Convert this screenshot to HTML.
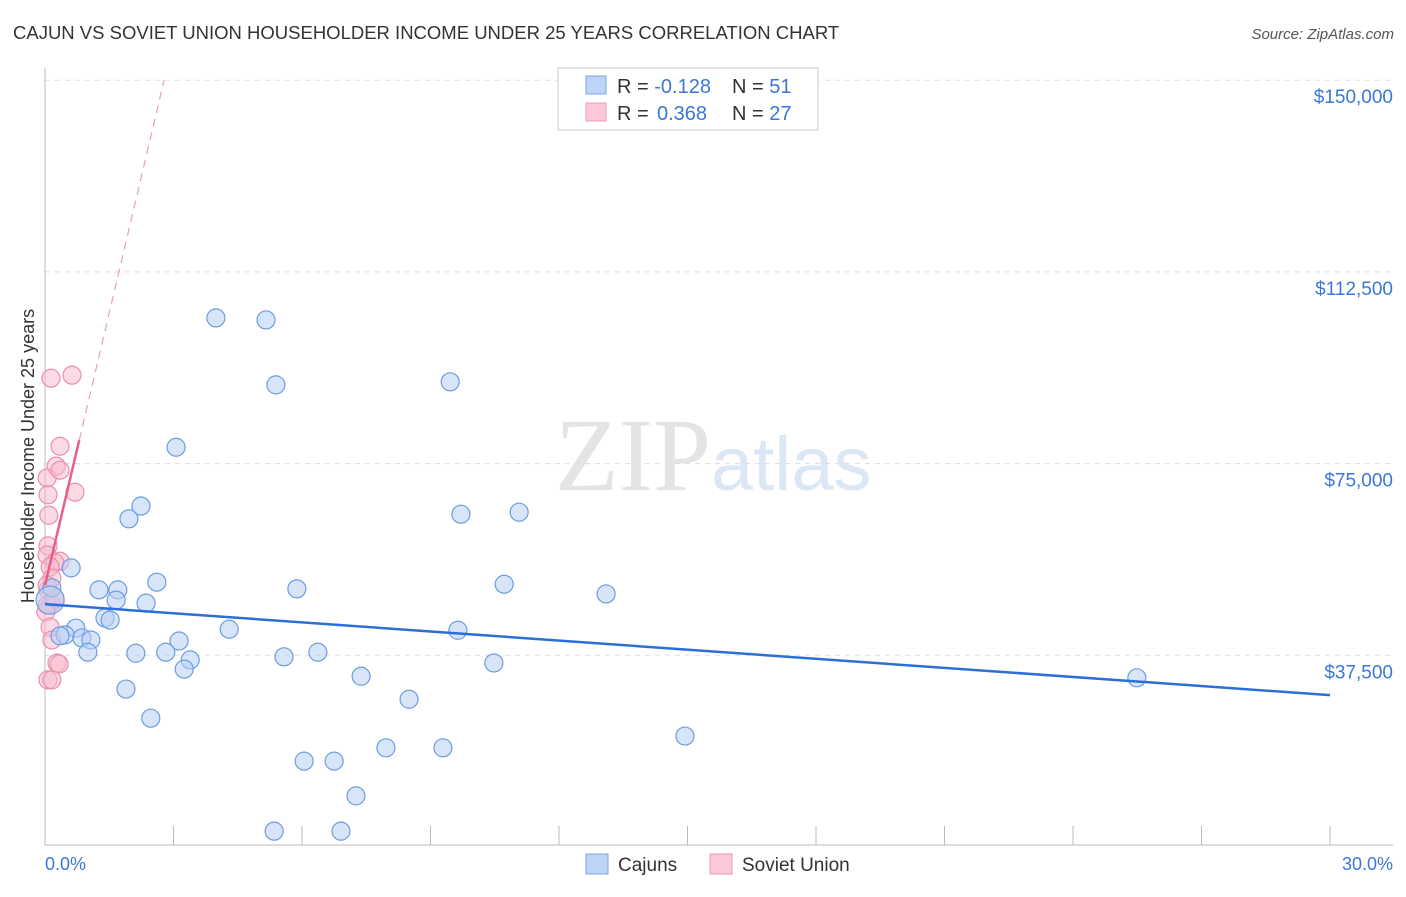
<!DOCTYPE html>
<html><head><meta charset="utf-8"><style>
body{margin:0;background:#fff;font-family:"Liberation Sans",sans-serif;}
</style></head><body>
<svg id="chart" width="1406" height="892" xmlns="http://www.w3.org/2000/svg" font-family="Liberation Sans, sans-serif">
<text x="13" y="39" font-size="18.5" fill="#333">CAJUN VS SOVIET UNION HOUSEHOLDER INCOME UNDER 25 YEARS CORRELATION CHART</text>
<text x="1394" y="39" font-size="15" fill="#555" text-anchor="end" font-style="italic">Source: ZipAtlas.com</text>
<text x="555" y="490" font-size="104" fill="#e4e4e4" font-family="Liberation Serif, serif">ZIP<tspan fill="#dce7f5" font-family="Liberation Sans, sans-serif" font-size="76">atlas</tspan></text>
<g id="grid"></g><g id="axes"></g><g id="marks"></g>
<text transform="translate(34,456) rotate(-90)" font-size="18" fill="#333" text-anchor="middle">Householder Income Under 25 years</text>
<text x="45" y="870" font-size="18" fill="#3a78d8">0.0%</text>
<text x="1393" y="870" font-size="18" fill="#3a78d8" text-anchor="end">30.0%</text>
<g>
<rect x="558" y="68" width="260" height="62" fill="#fff" stroke="#ccc"/>
<rect x="586" y="76" width="20" height="18" fill="#bcd4f6" stroke="#7aa6e6"/>
<rect x="586" y="103" width="20" height="18" fill="#fac8d6" stroke="#ef9ab3"/>
<text x="617" y="93" font-size="20" fill="#333">R = <tspan fill="#3a78d8">-0.128</tspan><tspan x="732">N = </tspan><tspan fill="#3a78d8">51</tspan></text>
<text x="617" y="120" font-size="20" fill="#333">R = <tspan fill="#3a78d8" x="657">0.368</tspan><tspan x="732">N = </tspan><tspan fill="#3a78d8">27</tspan></text>
</g>
<g>
<rect x="586" y="854" width="22" height="20" fill="#bcd4f6" stroke="#7aa6e6"/>
<text x="618" y="871" font-size="19" fill="#333">Cajuns</text>
<rect x="710" y="854" width="22" height="20" fill="#fac8d6" stroke="#ef9ab3"/>
<text x="742" y="871" font-size="19" fill="#333">Soviet Union</text>
</g>
</svg>
<script>
const yTicks=[37500,75000,112500,150000];
const yTickLabels=["$37,500","$75,000","$112,500","$150,000"];
const xTicks=[0,3,6,9,12,15,18,21,24,27,30];
const cajunX=[3.99,5.16,5.39,9.46,3.06,2.24,1.96,9.71,11.07,0.61,2.61,1.26,1.70,1.66,2.36,5.88,10.72,13.10,0.16,0.12,1.40,1.52,0.72,0.47,0.35,0.86,1.07,4.30,3.13,9.64,1.00,2.12,2.82,3.39,3.25,5.58,6.37,10.48,7.38,25.49,1.89,8.50,2.47,14.94,7.96,9.29,6.05,6.75,7.26,5.35,6.91];
const cajunY=[103500,103100,90400,91000,78200,66700,64200,65100,65500,54600,51800,50300,50300,48300,47700,50500,51400,49500,50700,48300,44800,44400,42800,41500,41300,40900,40500,42600,40300,42400,38100,37900,38100,36600,34800,37200,38100,36000,33400,33100,30900,28900,25200,21700,19400,19400,16800,16800,10000,3100,3100];
const sovX=[0.14,0.63,0.35,0.26,0.05,0.70,0.07,0.09,0.07,0.05,0.35,0.23,0.12,0.16,0.07,0.14,0.05,0.02,0.12,0.16,0.28,0.33,0.07,0.16,0.23,0.35,0.05];
const sovY=[91700,92300,78400,74500,72200,69400,68900,64900,58900,57100,55900,55600,54800,52600,50300,47700,47300,46000,43000,40500,36000,35800,32700,32700,48700,73700,51200];
const cajunTrend=[[0,47500],[30,29700]];
const sovTrendSolid=[[0,51200],[0.8,79600]];
const sovTrendDash=[[0.8,79600],[2.78,150000]];
const NS="http://www.w3.org/2000/svg";
const X=v=>45+v/30*1285, Y=v=>847-v/37500*191.7;
function mk(tag,attrs,parent){const e=document.createElementNS(NS,tag);for(const k in attrs)e.setAttribute(k,attrs[k]);document.getElementById(parent).appendChild(e);return e;}
yTicks.forEach((t,i)=>{
 const g=mk('line',{x1:45,x2:1393,y1:Y(t),y2:Y(t),stroke:'#ddd','stroke-dasharray':'5,5'},'grid');
 
 
 const l=mk('text',{x:1393,y:Y(t)+23,'font-size':19,fill:'#3a78d8','text-anchor':'end'},'grid');
 l.textContent=yTickLabels[i];
 
 
});
const ax=mk('line',{x1:45,x2:1393,y1:845,y2:845,stroke:'#bbb'},'axes');


const ay=mk('line',{x1:45,x2:45,y1:68,y2:845,stroke:'#bbb'},'axes');


xTicks.forEach(t=>{
 const k=mk('line',{x1:X(t),x2:X(t),y1:826,y2:845,stroke:'#bbb'},'axes');
 
 
});
function dots(xs,ys,fill,stroke,name){xs.forEach((x,i)=>{
 const c=mk('circle',{cx:X(x),cy:Y(ys[i]),r:(name==='cajun-point'&&i===19)?14:9,fill:fill,'fill-opacity':0.55,stroke:stroke,'stroke-width':1.2},'marks');
 
 
});}
dots(sovX,sovY,'#f8bccd','#ec8fab','soviet-union-point');
dots(cajunX,cajunY,'#b8d0f4','#6b9de0','cajun-point');
function line(p,stroke,w,dash,name){
 const l=mk('line',{x1:X(p[0][0]),y1:Y(p[0][1]),x2:X(p[1][0]),y2:Y(p[1][1]),stroke:stroke,'stroke-width':w},'marks');
 if(dash)l.setAttribute('stroke-dasharray',dash);
 
 
}
line(cajunTrend,'#2b6fd6',2.5,null,'cajun-trend-line');
line(sovTrendSolid,'#e8608a',2.5,null,'soviet-trend-line');
line(sovTrendDash,'#e8a0b6',1.2,'8,6','soviet-trend-extension');
</script>
</body></html>
